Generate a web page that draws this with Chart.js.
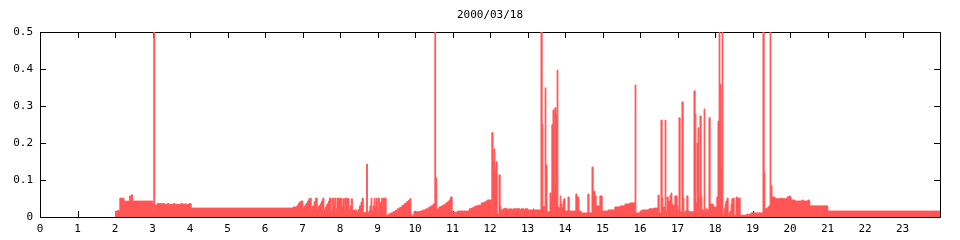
<!DOCTYPE html>
<html>
<head>
<meta charset="utf-8">
<style>
html, body { margin: 0; padding: 0; background: #fff; }
</style>
<script src="https://cdn.jsdelivr.net/npm/chart.js@4.4.1/dist/chart.umd.min.js"></script>
</head>
<body>
<canvas id="loadChart" width="960" height="240"></canvas>
<script>
const chartTitle = "2000/03/18";

// step series: value holds from hours[i] until hours[i+1] (values above 0.5 run off the top)
const hours = [
    2.00, 2.05, 2.13, 2.19, 2.21, 2.24, 2.29, 2.32, 2.37, 2.39, 2.41, 2.44, 2.47,
    3.01, 3.035, 3.06, 3.12, 3.33, 3.39, 3.44, 3.55, 3.60, 3.76, 3.81, 3.87, 3.89, 3.97,
    4.03, 6.75, 6.85, 6.88, 6.91, 6.96,
    7.01, 7.05, 7.09, 7.13, 7.17, 7.20, 7.23, 7.27, 7.31, 7.35, 7.39, 7.43, 7.47, 7.51, 7.54,
    7.57, 7.61, 7.65, 7.69, 7.72, 7.76, 7.79, 7.83, 7.86, 7.89, 7.92, 7.97,
    8.01, 8.05, 8.08, 8.11, 8.13, 8.17, 8.20, 8.24, 8.27, 8.30, 8.33, 8.37, 8.44, 8.48, 8.52,
    8.56, 8.59, 8.62, 8.66, 8.71, 8.73, 8.77, 8.80, 8.83, 8.85, 8.88, 8.91, 8.93, 8.96, 8.99,
    9.02, 9.05, 9.08, 9.11, 9.13, 9.16, 9.23, 9.29, 9.35, 9.41, 9.47, 9.53, 9.59, 9.65, 9.71,
    9.77, 9.83, 9.87, 9.89, 9.97,
    10.13, 10.21, 10.29, 10.37, 10.43, 10.48, 10.53, 10.55, 10.58, 10.64, 10.70, 10.76, 10.82,
    10.87, 10.91, 10.95, 10.99,
    11.13, 11.45, 11.50, 11.55, 11.61, 11.69, 11.77, 11.83, 11.89, 11.93,
    12.03, 12.05, 12.08, 12.11, 12.13, 12.16, 12.19, 12.24, 12.27, 12.29, 12.35, 12.40, 12.43,
    12.47, 12.50, 12.53, 12.55, 12.58, 12.61, 12.80, 12.83, 12.90, 12.93,
    13.01, 13.15, 13.17, 13.36, 13.39, 13.41, 13.47, 13.49, 13.52, 13.60, 13.63, 13.65, 13.68,
    13.71, 13.73, 13.76, 13.79, 13.81, 13.84, 13.87, 13.89, 13.92, 13.95, 13.97,
    14.00, 14.08, 14.11, 14.29, 14.32, 14.37, 14.43, 14.61, 14.64, 14.72, 14.75, 14.77, 14.80,
    14.83, 14.93, 14.99,
    15.15, 15.33, 15.47, 15.60, 15.73, 15.87, 15.89,
    16.00, 16.05, 16.24, 16.37, 16.48, 16.51, 16.56, 16.59, 16.61, 16.67, 16.69, 16.72, 16.75,
    16.77, 16.80, 16.83, 16.85, 16.88, 16.93, 16.99,
    17.01, 17.04, 17.07, 17.12, 17.15, 17.17, 17.20, 17.25, 17.28, 17.31, 17.44, 17.47, 17.49,
    17.52, 17.55, 17.57, 17.60, 17.63, 17.65, 17.71, 17.73, 17.76, 17.79, 17.84, 17.87, 17.95, 17.97,
    18.05, 18.08, 18.11, 18.13, 18.16, 18.19, 18.21, 18.24, 18.27, 18.29, 18.32, 18.35, 18.37,
    18.40, 18.43, 18.45, 18.48, 18.51, 18.53, 18.56, 18.59, 18.67, 18.85, 18.88, 18.91, 18.96,
    19.28, 19.31, 19.33, 19.39, 19.41, 19.44, 19.47, 19.49, 19.52, 19.60, 19.73, 19.76, 19.79,
    19.81, 19.92, 19.97,
    20.00, 20.03, 20.05, 20.13, 20.32, 20.35, 20.48, 20.51, 20.53,
    21.01, 24.00
];

const loads = [
    0.014, 0.017, 0.051, 0.048, 0.051, 0.043, 0.041, 0.043, 0.041, 0.057, 0.043, 0.060, 0.043,
    0.016, 0.600, 0.032, 0.036, 0.034, 0.036, 0.034, 0.036, 0.034, 0.036, 0.034, 0.036, 0.034, 0.036,
    0.024, 0.027, 0.030, 0.035, 0.040, 0.043,
    0.024, 0.030, 0.036, 0.043, 0.049, 0.051, 0.022, 0.030, 0.041, 0.051, 0.022, 0.030, 0.036, 0.043, 0.051,
    0.019, 0.027, 0.035, 0.043, 0.051, 0.016, 0.051, 0.027, 0.051, 0.022, 0.051, 0.049,
    0.051, 0.027, 0.049, 0.016, 0.051, 0.030, 0.050, 0.019, 0.030, 0.049, 0.016, 0.019, 0.011, 0.020, 0.030,
    0.040, 0.051, 0.011, 0.013, 0.143, 0.011, 0.016, 0.030, 0.051, 0.016, 0.030, 0.051, 0.027, 0.051, 0.022,
    0.051, 0.016, 0.040, 0.051, 0.027, 0.051, 0.005, 0.008, 0.011, 0.014, 0.018, 0.022, 0.026, 0.031, 0.036,
    0.041, 0.046, 0.050, 0.005, 0.014,
    0.016, 0.019, 0.022, 0.027, 0.030, 0.035, 0.600, 0.105, 0.022, 0.027, 0.030, 0.033, 0.038,
    0.041, 0.046, 0.054, 0.013,
    0.016, 0.022, 0.024, 0.027, 0.030, 0.032, 0.038, 0.040, 0.043, 0.046,
    0.013, 0.228, 0.151, 0.184, 0.130, 0.149, 0.008, 0.114, 0.030, 0.019, 0.022, 0.024, 0.022,
    0.019, 0.022, 0.019, 0.022, 0.019, 0.022, 0.019, 0.022, 0.019, 0.022,
    0.019, 0.022, 0.019, 0.600, 0.251, 0.028, 0.349, 0.141, 0.014, 0.065, 0.041, 0.249, 0.289,
    0.092, 0.295, 0.276, 0.397, 0.027, 0.024, 0.057, 0.035, 0.024, 0.043, 0.049,
    0.016, 0.054, 0.016, 0.062, 0.054, 0.016, 0.011, 0.062, 0.011, 0.135, 0.068, 0.070, 0.057,
    0.030, 0.057, 0.016,
    0.019, 0.027, 0.030, 0.035, 0.038, 0.357, 0.011,
    0.016, 0.019, 0.022, 0.024, 0.059, 0.011, 0.262, 0.051, 0.027, 0.262, 0.016, 0.054, 0.041,
    0.043, 0.059, 0.065, 0.035, 0.030, 0.057, 0.032,
    0.019, 0.268, 0.014, 0.311, 0.051, 0.011, 0.016, 0.057, 0.016, 0.014, 0.341, 0.278, 0.038,
    0.200, 0.241, 0.051, 0.273, 0.057, 0.019, 0.292, 0.016, 0.022, 0.019, 0.268, 0.035, 0.030, 0.027,
    0.054, 0.259, 0.600, 0.359, 0.132, 0.600, 0.005, 0.022, 0.035, 0.043, 0.051, 0.005, 0.011,
    0.016, 0.035, 0.049, 0.051, 0.003, 0.005, 0.054, 0.051, 0.005, 0.008, 0.005, 0.008, 0.011,
    0.600, 0.119, 0.022, 0.024, 0.027, 0.030, 0.600, 0.084, 0.054, 0.049, 0.051, 0.049, 0.051,
    0.049, 0.054, 0.057,
    0.054, 0.043, 0.046, 0.043, 0.046, 0.043, 0.046, 0.043, 0.030,
    0.016, 0.016
];

const xTickValues = [0, 1, 2, 3, 4, 5, 6, 7, 8, 9, 10, 11, 12, 13, 14, 15, 16, 17, 18, 19, 20, 21, 22, 23, 24];
const yTickValues = [0, 0.1, 0.2, 0.3, 0.4, 0.5];

const monoFont = { family: "'DejaVu Sans Mono', monospace", size: 11 };

// gnuplot-like frame with inward ticks on all four sides
const framePlugin = {
    id: "frame",
    beforeDatasetsDraw(chart) {
        const { ctx, chartArea: a, scales } = chart;
        const tick = 6;
        ctx.save();
        ctx.strokeStyle = "#000";
        ctx.lineWidth = 1;
        ctx.beginPath();
        ctx.rect(Math.round(a.left) + 0.5, Math.round(a.top) + 0.5,
            Math.round(a.right - a.left), Math.round(a.bottom - a.top));
        xTickValues.forEach(v => {
            const x = Math.round(scales.x.getPixelForValue(v)) + 0.5;
            ctx.moveTo(x, a.bottom);
            ctx.lineTo(x, a.bottom - tick);
            ctx.moveTo(x, a.top);
            ctx.lineTo(x, a.top + tick);
        });
        yTickValues.forEach(v => {
            const y = Math.round(scales.y.getPixelForValue(v)) + 0.5;
            ctx.moveTo(a.left, y);
            ctx.lineTo(a.left + tick, y);
            ctx.moveTo(a.right, y);
            ctx.lineTo(a.right - tick, y);
        });
        ctx.stroke();
        ctx.restore();
    }
};

const ctx = document.getElementById("loadChart");

new Chart(ctx, {
    type: "line",
    data: {
        datasets: [{
            data: hours.map((h, i) => ({ x: h, y: loads[i] })),
            stepped: true,
            fill: "origin",
            backgroundColor: "#ff5555",
            borderColor: "#ff5555",
            borderWidth: 1,
            pointRadius: 0
        }]
    },
    options: {
        responsive: false,
        animation: false,
        devicePixelRatio: 1,
        layout: { padding: { left: 0, right: 20, top: 0, bottom: 0 } },
        plugins: {
            legend: { display: false },
            tooltip: { enabled: false },
            title: {
                display: true,
                text: chartTitle,
                fullSize: false,
                color: "#000",
                font: { family: monoFont.family, size: 11, weight: "normal", lineHeight: 1 },
                padding: { top: 10, bottom: 11 }
            }
        },
        scales: {
            x: {
                type: "linear",
                min: 0,
                max: 24,
                grid: { display: false, drawTicks: false },
                border: { display: false },
                afterFit: scale => { scale.height = 23; },
                ticks: {
                    stepSize: 1,
                    autoSkip: false,
                    maxRotation: 0,
                    padding: 6,
                    color: "#000",
                    font: monoFont,
                    callback: v => (v < 24 ? String(v) : "")
                }
            },
            y: {
                min: 0,
                max: 0.5,
                grid: { display: false, drawTicks: false },
                border: { display: false },
                afterFit: scale => { scale.width = 40; },
                ticks: {
                    stepSize: 0.1,
                    padding: 7,
                    color: "#000",
                    font: monoFont,
                    callback: v => (v === 0 ? "0" : v.toFixed(1))
                }
            }
        }
    },
    plugins: [framePlugin]
});
</script>
</body>
</html>
